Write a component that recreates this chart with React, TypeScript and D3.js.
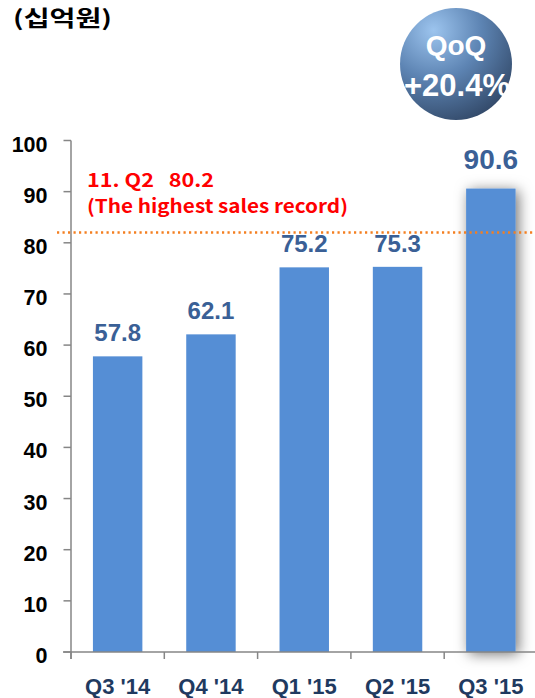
import React from "react";
import * as d3 from "d3";

const categories = ["Q3 '14", "Q4 '14", "Q1 '15", "Q2 '15", "Q3 '15"];
const values = [57.8, 62.1, 75.2, 75.3, 90.6];
const yTicks = [0, 10, 20, 30, 40, 50, 60, 70, 80, 90, 100];
const recordLineValue = 82;
const annotationLines = ["11. Q2   80.2", "(The highest sales record)"];
const unitLabel = "(십억원)";
const badgeLines = ["QoQ", "+20.4%"];

const W = 535;
const H = 698;
const x0 = 71;
const x1 = 537.5;
const yBase = 652;
const yTop = 140.5;

export default function App() {
  const x = d3.scaleBand<string>().domain(categories).range([x0, x1]).paddingInner(0.47).paddingOuter(0.235);
  const xTick = d3.scaleBand<string>().domain(categories).range([x0, x1]);
  const y = d3.scaleLinear().domain([0, 100]).range([yBase, yTop]);
  const arial = "'Liberation Sans', Arial, sans-serif";
  const kr = "'Noto Sans CJK KR', sans-serif";
  const last = categories.length - 1;

  return (
    <svg width={W} height={H} style={{ position: "absolute", left: 0, top: 0, background: "#fff" }}>
      <defs>
        <filter id="shadow" x="-60%" y="-20%" width="220%" height="140%">
          <feDropShadow dx="3" dy="2" stdDeviation="7" floodColor="#000" floodOpacity="0.55" />
        </filter>
        <radialGradient id="badge" cx="0.3" cy="0.2" r="0.95">
          <stop offset="0" stopColor="#9cc4ee" />
          <stop offset="0.45" stopColor="#5d84b3" />
          <stop offset="1" stopColor="#2b3f5c" />
        </radialGradient>
      </defs>

      <text x={13} y={26} fontFamily={kr} fontWeight="bold" fontSize={21.5} fill="#000" textLength={99} lengthAdjust="spacingAndGlyphs">
        {unitLabel}
      </text>

      {/* badge */}
      <circle cx={456} cy={64} r={56} fill="url(#badge)" />
      <text x={456} y={55} textAnchor="middle" fontFamily={arial} fontWeight="bold" fontSize={28} fill="#fff">
        {badgeLines[0]}
      </text>
      <text x={457} y={96} textAnchor="middle" fontFamily={arial} fontWeight="bold" fontSize={31} fill="#fff">
        {badgeLines[1]}
      </text>

      {/* y axis */}
      <line x1={x0} x2={x0} y1={yTop} y2={yBase + 7} stroke="#868686" strokeWidth={1.5} />
      {yTicks.map((t) => (
        <g key={t}>
          <line x1={x0 - 7.5} x2={x0} y1={y(t)} y2={y(t)} stroke="#868686" strokeWidth={1.5} />
          <text x={47.5} y={y(t) + 11} textAnchor="end" fontFamily={arial} fontWeight="bold" fontSize={21.5} fill="#000">
            {t}
          </text>
        </g>
      ))}

      {/* bars */}
      {categories.map((c, i) => (
        <rect
          key={c}
          x={x(c)}
          y={y(values[i])}
          width={x.bandwidth()}
          height={yBase - y(values[i])}
          fill="#558ed5"
          filter={i === last ? "url(#shadow)" : undefined}
        />
      ))}

      {/* baseline */}
      <line x1={63} x2={W} y1={yBase} y2={yBase} stroke="#868686" strokeWidth={1.5} />
      {categories.map((c) => (
        <line key={c} x1={xTick(c)} x2={xTick(c)} y1={yBase} y2={yBase + 7} stroke="#868686" strokeWidth={1.5} />
      ))}

      {/* record line */}
      <line x1={57} x2={W} y1={y(recordLineValue)} y2={y(recordLineValue)} stroke="#f47f20" strokeWidth={2.5} strokeDasharray="2.2 3.3" />
      <text x={87} y={187} fontFamily={kr} fontWeight="bold" fontSize={18.5} fill="#ff0000" textLength={127} lengthAdjust="spacingAndGlyphs" style={{ whiteSpace: "pre" }}>
        {annotationLines[0]}
      </text>
      <text x={87} y={213} fontFamily={kr} fontWeight="bold" fontSize={18.5} fill="#ff0000" textLength={261} lengthAdjust="spacingAndGlyphs">
        {annotationLines[1]}
      </text>

      {/* value labels */}
      {categories.map((c, i) => (
        <text
          key={c}
          x={(x(c) ?? 0) + x.bandwidth() / 2}
          y={y(values[i]) - (i === last ? 20 : 15)}
          textAnchor="middle"
          fontFamily={arial}
          fontWeight="bold"
          fontSize={i === last ? 28 : 24}
          fill="#3a6096"
        >
          {values[i].toFixed(1)}
        </text>
      ))}

      {/* category labels */}
      {categories.map((c) => (
        <text
          key={c}
          x={(x(c) ?? 0) + x.bandwidth() / 2}
          y={694}
          textAnchor="middle"
          fontFamily={arial}
          fontWeight="bold"
          fontSize={22}
          fill="#1f3a60"
          style={{ whiteSpace: "pre" }}
        >
          {c}
        </text>
      ))}
    </svg>
  );
}
